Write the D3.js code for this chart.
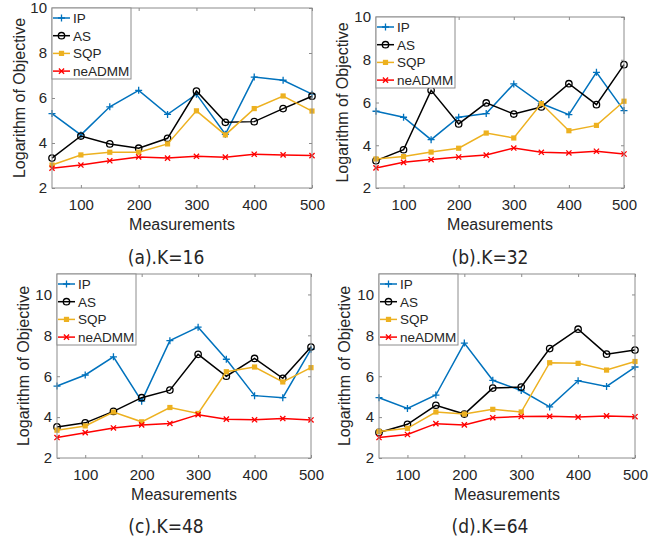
<!DOCTYPE html>
<html>
<head>
<meta charset="utf-8">
<script src="https://cdn.jsdelivr.net/npm/d3@7"></script>
<style>
  body { margin: 0; background: #fff; }
  svg text { font-family: "Liberation Sans", Arial, Helvetica, sans-serif; fill: #262626; }
  .caption { font-family: "DejaVu Sans Condensed", "Liberation Sans Narrow", "DejaVu Sans", sans-serif; font-stretch: condensed; }
</style>
</head>
<body>
<svg id="fig" width="670" height="543"></svg>
<script>
// x values and ticks shared by all four panels
const measurements = [50, 100, 150, 200, 250, 300, 350, 400, 450, 500];
const xTicks = [100, 200, 300, 400, 500];
const yTicks = [2, 4, 6, 8, 10];
const seriesNames = ["IP", "AS", "SQP", "neADMM"];
const seriesColors = ["#0072BD", "#000000", "#EDB120", "#FF0000"];
const captions = ["(a).K=16", "(b).K=32", "(c).K=48", "(d).K=64"];

// (a) K=16
const ipK16   = [5.31, 4.36, 5.61, 6.34, 5.27, 6.17, 4.39, 6.93, 6.79, 6.17];
const asK16   = [3.33, 4.31, 3.96, 3.77, 4.21, 6.31, 4.92, 4.95, 5.53, 6.08];
const sqpK16  = [3.02, 3.47, 3.59, 3.59, 3.96, 5.43, 4.36, 5.53, 6.09, 5.42];
const admmK16 = [2.88, 3.02, 3.21, 3.38, 3.33, 3.41, 3.37, 3.50, 3.47, 3.44];

// (b) K=32
const ipK32   = [5.59, 5.31, 4.26, 5.31, 5.48, 6.87, 5.95, 5.43, 7.41, 5.62];
const asK32   = [3.28, 3.79, 6.57, 5.00, 5.98, 5.46, 5.79, 6.88, 5.90, 7.77];
const sqpK32  = [3.36, 3.47, 3.68, 3.86, 4.57, 4.34, 5.95, 4.68, 4.93, 6.06];
const admmK32 = [2.94, 3.20, 3.33, 3.45, 3.54, 3.87, 3.67, 3.64, 3.72, 3.59];

// (c) K=48
const ipK48   = [5.52, 6.06, 6.95, 4.78, 7.74, 8.40, 6.83, 5.05, 4.95, 7.32];
const asK48   = [3.52, 3.72, 4.28, 4.95, 5.32, 7.07, 6.00, 6.87, 5.90, 7.43];
const sqpK48  = [3.36, 3.57, 4.25, 3.77, 4.47, 4.18, 6.22, 6.45, 5.72, 6.42];
const admmK48 = [3.00, 3.24, 3.47, 3.62, 3.69, 4.12, 3.90, 3.87, 3.93, 3.86];

// (d) K=64
const ipK64   = [4.95, 4.42, 5.08, 7.62, 5.80, 5.30, 4.50, 5.78, 5.50, 6.45];
const asK64   = [3.25, 3.65, 4.58, 4.15, 5.42, 5.47, 7.35, 8.30, 7.08, 7.28];
const sqpK64  = [3.30, 3.45, 4.25, 4.15, 4.38, 4.25, 6.66, 6.63, 6.30, 6.72];
const admmK64 = [3.00, 3.15, 3.68, 3.62, 3.97, 4.03, 4.04, 4.00, 4.06, 4.02];

const panelData = [
  [ipK16, asK16, sqpK16, admmK16],
  [ipK32, asK32, sqpK32, admmK32],
  [ipK48, asK48, sqpK48, admmK48],
  [ipK64, asK64, sqpK64, admmK64]
];

// panel frames (pixels) and y extents
const panels = [
  { left: 52,  right: 312, top: 8,   bottom: 188, yMax: 10, yLabelX: 25,  capX: 166, capY: 264 },
  { left: 376, right: 624, top: 17,  bottom: 188, yMax: 10, yLabelX: 348, capX: 490, capY: 264 },
  { left: 57,  right: 311, top: 274, bottom: 458, yMax: 11, yLabelX: 29,  capX: 166, capY: 533 },
  { left: 379, right: 635, top: 274, bottom: 458, yMax: 11, yLabelX: 350, capX: 490, capY: 533 }
];

const svg = d3.select("#fig");
const boxColor = "#8c8c8c";

// marker drawing for each series
function drawMarker(g, i, color) {
  if (i === 0) {
    g.append("path").attr("d", "M-3.5,0H3.5M0,-3.5V3.5")
      .attr("stroke", color).attr("stroke-width", 1.3).attr("fill", "none");
  } else if (i === 1) {
    g.append("circle").attr("r", 3.2)
      .attr("stroke", color).attr("stroke-width", 1.3).attr("fill", "none");
  } else if (i === 2) {
    g.append("rect").attr("x", -2.6).attr("y", -2.6).attr("width", 5.2).attr("height", 5.2)
      .attr("fill", color);
  } else {
    g.append("path").attr("d", "M-2.6,-2.6L2.6,2.6M-2.6,2.6L2.6,-2.6")
      .attr("stroke", color).attr("stroke-width", 1.3).attr("fill", "none");
  }
}

panels.forEach((p, pi) => {
  const x = d3.scaleLinear().domain([50, 500]).range([p.left, p.right]);
  const y = d3.scaleLinear().domain([2, p.yMax]).range([p.bottom, p.top]);

  // axes, ticks inward like MATLAB
  const xAxis = d3.axisBottom(x).tickValues(xTicks).tickSize(-3).tickSizeOuter(0).tickPadding(11);
  const yAxis = d3.axisLeft(y).tickValues(yTicks).tickSize(-3).tickSizeOuter(0).tickPadding(5);

  const gx = svg.append("g").attr("class", "x axis")
    .attr("transform", `translate(0,${p.bottom})`).call(xAxis);
  const gy = svg.append("g").attr("class", "y axis")
    .attr("transform", `translate(${p.left},0)`).call(yAxis);

  // top and right ticks for the box
  svg.append("g").attr("transform", `translate(0,${p.top})`)
    .call(d3.axisTop(x).tickValues(xTicks).tickSize(-3).tickSizeOuter(0).tickFormat(""));
  svg.append("g").attr("transform", `translate(${p.right},0)`)
    .call(d3.axisRight(y).tickValues(yTicks).tickSize(-3).tickSizeOuter(0).tickFormat(""));

  svg.selectAll(".domain").remove();
  svg.selectAll(".tick line").attr("stroke", boxColor);
  gx.selectAll(".tick text").style("font-size", "15px").attr("fill", "#262626");
  gy.selectAll(".tick text").style("font-size", "15px").attr("fill", "#262626");

  // series lines and markers
  const line = d3.line().x((d, i) => x(measurements[i])).y(d => y(d));
  panelData[pi].forEach((vals, si) => {
    svg.append("path").datum(vals)
      .attr("d", line)
      .attr("fill", "none")
      .attr("stroke", seriesColors[si])
      .attr("stroke-width", 1.5);
    vals.forEach((v, i) => {
      const m = svg.append("g").attr("transform", `translate(${x(measurements[i])},${y(v)})`);
      drawMarker(m, si, seriesColors[si]);
    });
  });

  // box
  svg.append("rect")
    .attr("x", p.left).attr("y", p.top)
    .attr("width", p.right - p.left).attr("height", p.bottom - p.top)
    .attr("fill", "none").attr("stroke", boxColor).attr("stroke-width", 1);

  // axis labels
  svg.append("text")
    .attr("x", (p.left + p.right) / 2).attr("y", p.bottom + 42)
    .attr("text-anchor", "middle").style("font-size", "16px")
    .text("Measurements");
  svg.append("text")
    .attr("transform", `translate(${p.yLabelX},${(p.top + p.bottom) / 2}) rotate(-90)`)
    .attr("text-anchor", "middle").style("font-size", "16px")
    .text("Logarithm of Objective");

  // legend in the north-west corner
  const lg = svg.append("g").attr("transform", `translate(${p.left},${p.top})`);
  lg.append("rect").attr("width", 79).attr("height", 71)
    .attr("fill", "#fff").attr("stroke", boxColor).attr("stroke-width", 1);
  seriesNames.forEach((name, si) => {
    const ry = 10 + si * 17.7;
    lg.append("line").attr("x1", 1).attr("x2", 18).attr("y1", ry).attr("y2", ry)
      .attr("stroke", seriesColors[si]).attr("stroke-width", 1.5);
    const m = lg.append("g").attr("transform", `translate(9.5,${ry})`);
    drawMarker(m, si, seriesColors[si]);
    lg.append("text").attr("x", 21).attr("y", ry + 5)
      .style("font-size", "13.5px").attr("fill", "#000").text(name);
  });

  // subfigure caption
  svg.append("text").attr("class", "caption")
    .attr("x", p.capX).attr("y", p.capY)
    .attr("text-anchor", "middle").style("font-size", "19px").attr("fill", "#000")
    .text(captions[pi]);
});
</script>
</body>
</html>
